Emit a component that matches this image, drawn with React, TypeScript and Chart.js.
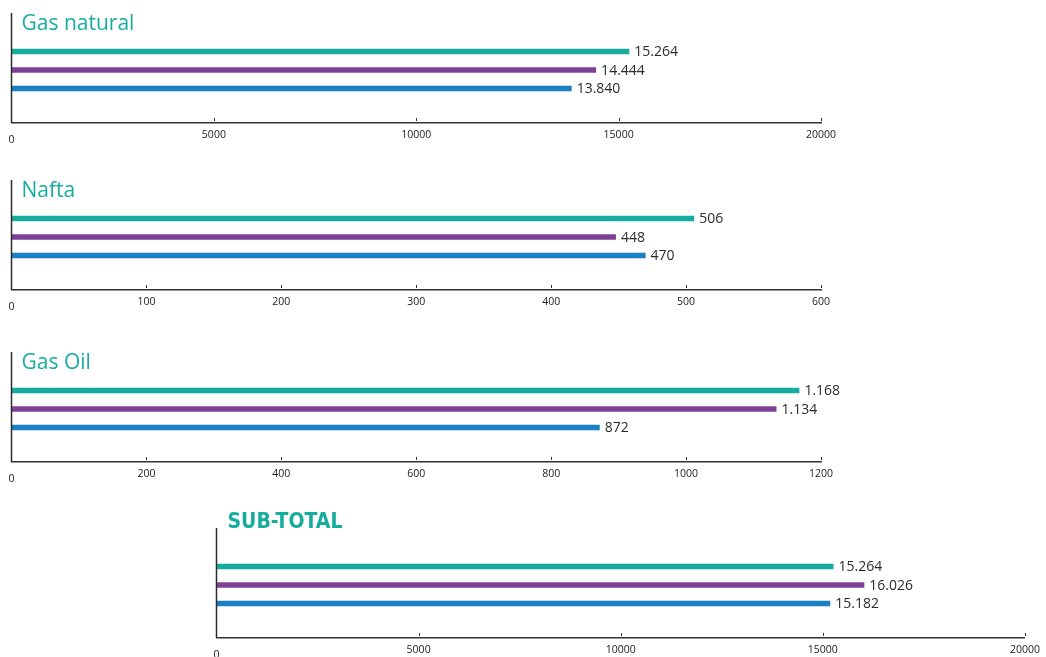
import React, { useEffect, useRef } from "react";
import { Chart, registerables } from "chart.js";

Chart.register(...registerables);

// ---- data ----
const seriesLabels = ["Serie 1", "Serie 2", "Serie 3"];
const seriesColors = ["#16AD9F", "#7E3F97", "#1A7FC3"];

const gasNaturalTitle = "Gas natural";
const gasNaturalValues = [15264, 14444, 13840];
const gasNaturalTicks = [0, 5000, 10000, 15000, 20000];

const naftaTitle = "Nafta";
const naftaValues = [506, 448, 470];
const naftaTicks = [0, 100, 200, 300, 400, 500, 600];

const gasOilTitle = "Gas Oil";
const gasOilValues = [1168, 1134, 872];
const gasOilTicks = [0, 200, 400, 600, 800, 1000, 1200];

const subTotalTitle = "SUB-TOTAL";
const subTotalValues = [15264, 16026, 15182];
const subTotalTicks = [0, 5000, 10000, 15000, 20000];

// ---- helpers ----
const fmt = (v: number) => String(v).replace(/\B(?=(\d{3})+(?!\d))/g, ".");

const AXIS_LOCAL = 140; // local y of x-axis inside canvas
const CANVAS_H = 177;
const AXIS_SPAN = 110; // y-axis line length
const TEAL = "#16AD9F";

type PanelProps = {
  title: string;
  values: number[];
  ticks: number[];
  left: number;
  top: number;
  width: number;
  padLeft: number;
  padRight: number;
  titleFont: string;
  titleDx: number;
  titleBaseline: number;
};

function BarPanel(p: PanelProps) {
  const ref = useRef<HTMLCanvasElement | null>(null);
  useEffect(() => {
    const canvas = ref.current;
    if (!canvas) return;
    const decor = {
      id: "panelDecor",
      afterDraw(chart: any) {
        const ctx = chart.ctx;
        const area = chart.chartArea;
        const xs = chart.scales.x;
        const axisTop = area.bottom - AXIS_SPAN;
        ctx.save();
        // y axis line
        ctx.strokeStyle = "#2b2b2b";
        ctx.lineWidth = 1.5;
        ctx.beginPath();
        ctx.moveTo(area.left, axisTop);
        ctx.lineTo(area.left, area.bottom);
        ctx.stroke();
        // small inner tick marks
        ctx.lineWidth = 1;
        ctx.strokeStyle = "#333";
        p.ticks.forEach((v) => {
          if (v === 0) return;
          const x = Math.round(xs.getPixelForValue(v)) + 0.5;
          ctx.beginPath();
          ctx.moveTo(x, area.bottom - 5);
          ctx.lineTo(x, area.bottom - 2);
          ctx.stroke();
        });
        // title
        ctx.fillStyle = TEAL;
        ctx.font = p.titleFont;
        ctx.textAlign = "left";
        ctx.textBaseline = "alphabetic";
        ctx.fillText(p.title, area.left + p.titleDx, axisTop + p.titleBaseline);
        // value labels
        ctx.fillStyle = "#2b2b2b";
        ctx.font = "14px 'Open Sans'";
        ctx.textBaseline = "middle";
        chart.data.datasets.forEach((ds: any, i: number) => {
          const el = chart.getDatasetMeta(i).data[0];
          if (!el) return;
          ctx.fillText(fmt(ds.data[0]), el.x + 5, el.y + 1);
        });
        ctx.restore();
      },
    };
    const maxV = p.ticks[p.ticks.length - 1];
    const chart = new Chart(canvas, {
      type: "bar",
      data: {
        labels: [p.title],
        datasets: seriesLabels.map((l, i) => ({
          label: l,
          data: [p.values[i]],
          backgroundColor: seriesColors[i],
          borderWidth: 0,
          categoryPercentage: 55.5 / 106,
          barPercentage: 0.31,
        })),
      },
      options: {
        indexAxis: "y",
        responsive: false,
        animation: false,
        devicePixelRatio: 1,
        layout: {
          padding: {
            left: p.padLeft,
            right: p.padRight,
            top: AXIS_LOCAL - 106,
            bottom: CANVAS_H - AXIS_LOCAL - 30,
          },
        },
        plugins: {
          legend: { display: false },
          tooltip: { enabled: false },
          title: { display: false },
        },
        scales: {
          y: { display: false },
          x: {
            type: "linear",
            min: 0,
            max: maxV,
            afterBuildTicks: (s: any) => {
              s.ticks = p.ticks.map((v) => ({ value: v }));
            },
            afterFit: (s: any) => {
              s.height = 30;
            },
            grid: { display: false, drawTicks: false },
            border: { display: true, color: "#333", width: 1.5 },
            ticks: {
              padding: 6,
              color: "#222",
              maxRotation: 0,
              autoSkip: false,
              callback: (v: any) => String(v),
              font: (c: any) => ({
                family: "'Open Sans'",
                size: 10.5,
                lineHeight: c.index === 0 ? 2.04 : 1.2,
              }),
            },
          },
        },
      } as any,
      plugins: [decor],
    });
    return () => chart.destroy();
  }, []);
  return (
    <canvas
      ref={ref}
      width={p.width}
      height={CANVAS_H}
      style={{ position: "absolute", left: p.left, top: p.top, display: "block" }}
    />
  );
}

export default function App() {
  const lightTitle = "21px 'Open Sans'";
  const boldTitle = "bold 21px 'DejaVu Sans Condensed', 'DejaVu Sans'";
  return (
    <div
      style={{
        position: "fixed",
        left: 0,
        top: 0,
        width: 1046,
        height: 657,
        overflow: "hidden",
        background: "#fff",
      }}
    >
      <BarPanel
        title={gasNaturalTitle}
        values={gasNaturalValues}
        ticks={gasNaturalTicks}
        left={0}
        top={123 - AXIS_LOCAL}
        width={880}
        padLeft={11.5}
        padRight={880 - 821}
        titleFont={lightTitle}
        titleDx={10}
        titleBaseline={16.5}
      />
      <BarPanel
        title={naftaTitle}
        values={naftaValues}
        ticks={naftaTicks}
        left={0}
        top={290 - AXIS_LOCAL}
        width={880}
        padLeft={11.5}
        padRight={880 - 821}
        titleFont={lightTitle}
        titleDx={10}
        titleBaseline={16.5}
      />
      <BarPanel
        title={gasOilTitle}
        values={gasOilValues}
        ticks={gasOilTicks}
        left={0}
        top={462 - AXIS_LOCAL}
        width={880}
        padLeft={11.5}
        padRight={880 - 821}
        titleFont={lightTitle}
        titleDx={10}
        titleBaseline={16.5}
      />
      <BarPanel
        title={subTotalTitle}
        values={subTotalValues}
        ticks={subTotalTicks}
        left={200}
        top={638 - AXIS_LOCAL}
        width={846}
        padLeft={16.5}
        padRight={846 - 1025.5}
        titleFont={boldTitle}
        titleDx={11}
        titleBaseline={0}
      />
    </div>
  );
}
